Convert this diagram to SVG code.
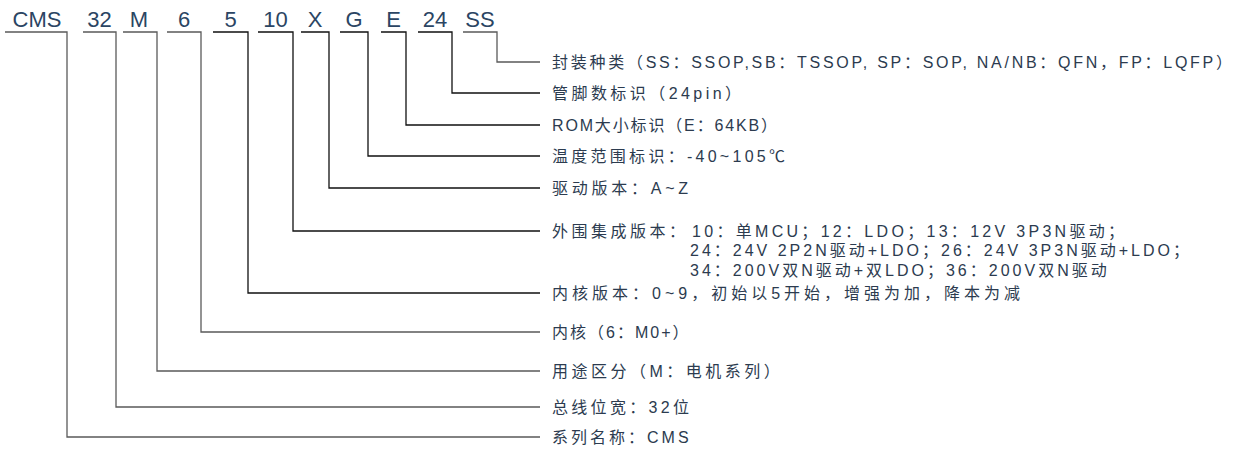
<svg xmlns="http://www.w3.org/2000/svg" width="1239" height="455" viewBox="0 0 1239 455">
<style>
.code{font-family:"Liberation Sans","Noto Sans CJK SC",sans-serif;font-size:22px;fill:#2b4563;text-anchor:middle}
.lbl{font-family:"Liberation Sans","Noto Sans CJK SC",sans-serif;font-size:16px;fill:#2c3b4f}
.cg{fill:none;stroke:#5a5a5a;stroke-width:1.3}
.ck{fill:none;stroke:#111;stroke-width:1.3}
</style>
<rect width="1239" height="455" fill="#fff"/>
<g id="connectors">
<path class="cg" d="M5 32H67V437H540"/>
<path class="cg" d="M83 32H116V407H540"/>
<path class="cg" d="M123 32H157V371H540"/>
<path class="cg" d="M167 32H201V332H540"/>
<path class="ck" d="M213 32H248V293H540"/>
<path class="ck" d="M258 32H293V231H540"/>
<path class="ck" d="M301 32H329V188H540"/>
<path class="ck" d="M340 32H368V156H540"/>
<path class="ck" d="M381 32H406V125H540"/>
<path class="ck" d="M418 32H452V93H540"/>
<path class="cg" d="M463 32H497V62H540"/>
</g>
<g id="code-cms"><text class="code" x="37" y="27">CMS</text></g>
<g id="code-32"><text class="code" x="99.5" y="27">32</text></g>
<g id="code-m"><text class="code" x="139" y="27">M</text></g>
<g id="code-6"><text class="code" x="184" y="27">6</text></g>
<g id="code-5"><text class="code" x="230.5" y="27">5</text></g>
<g id="code-10"><text class="code" x="275.5" y="27">10</text></g>
<g id="code-x"><text class="code" x="315" y="27">X</text></g>
<g id="code-g"><text class="code" x="354" y="27">G</text></g>
<g id="code-e"><text class="code" x="393.5" y="27">E</text></g>
<g id="code-24"><text class="code" x="435" y="27">24</text></g>
<g id="code-ss"><text class="code" x="480" y="27">SS</text></g>
<g id="label-package"><text class="lbl" x="552" y="67.5" textLength="680" lengthAdjust="spacing">封装种类（SS：SSOP,SB：TSSOP, SP：SOP, NA/NB：QFN，FP：LQFP）</text></g>
<g id="label-pins"><text class="lbl" x="552" y="98.5" textLength="189" lengthAdjust="spacing">管脚数标识（24pin）</text></g>
<g id="label-rom"><text class="lbl" x="552" y="130.5" textLength="225" lengthAdjust="spacing">ROM大小标识（E：64KB）</text></g>
<g id="label-temp"><text class="lbl" x="552" y="161.5" textLength="233" lengthAdjust="spacing">温度范围标识：-40~105℃</text></g>
<g id="label-drive"><text class="lbl" x="552" y="193.5" textLength="136" lengthAdjust="spacing">驱动版本：A~Z</text></g>
<g id="label-periph">
<text class="lbl" x="552" y="236.5" style="letter-spacing:3.5px">外围集成版本：</text>
<text class="lbl" x="692" y="236.5" style="letter-spacing:3.3px">10：单MCU；12：LDO；13：12V 3P3N驱动；</text>
<text class="lbl" x="690" y="256" style="letter-spacing:3px">24：24V 2P2N驱动+LDO；26：24V 3P3N驱动+LDO；</text>
<text class="lbl" x="690" y="275.5" style="letter-spacing:3px">34：200V双N驱动+双LDO；36：200V双N驱动</text>
</g>
<g id="label-corever"><text class="lbl" x="552" y="298.5" style="letter-spacing:4px">内核版本：0~9，初始以5开始，增强为加，降本为减</text></g>
<g id="label-core"><text class="lbl" x="552" y="337.5" style="letter-spacing:2px">内核（6：M0+）</text></g>
<g id="label-use"><text class="lbl" x="552" y="376.5" style="letter-spacing:3.5px">用途区分（M：电机系列）</text></g>
<g id="label-bus"><text class="lbl" x="552" y="412.5" style="letter-spacing:3.3px">总线位宽：32位</text></g>
<g id="label-series"><text class="lbl" x="552" y="442.5" style="letter-spacing:3px">系列名称：CMS</text></g>
</svg>
